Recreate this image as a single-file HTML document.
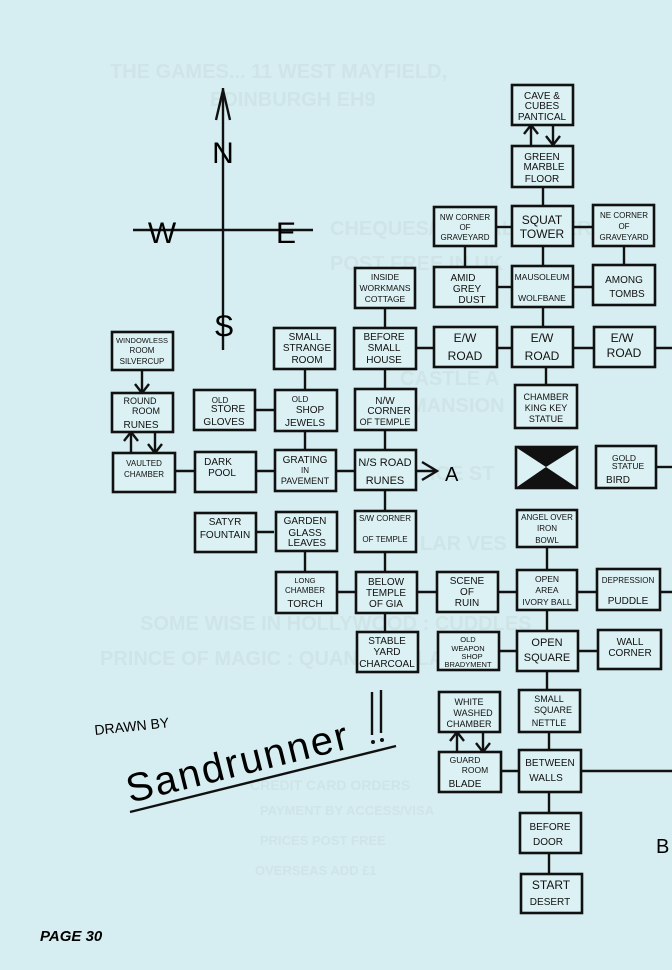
<!DOCTYPE html>
<html><head><meta charset="utf-8"><style>
html,body{margin:0;padding:0;background:#d6eef1;}
svg{display:block;}
.b{fill:#dcf1f3;stroke:#111;stroke-width:2.6;}
.l{stroke:#111;stroke-width:2.4;fill:none;}
.t{font-family:"Liberation Sans",sans-serif;font-size:10px;fill:#111;text-anchor:middle;}
.w{font-family:"Liberation Sans",sans-serif;font-weight:bold;fill:#cfe4e7;font-size:20px;}
</style></head><body>
<svg width="672" height="970" viewBox="0 0 672 970" xmlns="http://www.w3.org/2000/svg">
<rect width="672" height="970" fill="#d6eef1"/>
<!-- faint background text -->
<text class="w" x="110" y="78">THE GAMES... 11 WEST MAYFIELD,</text>
<text class="w" x="210" y="106">EDINBURGH EH9</text>
<text class="w" x="330" y="235">CHEQUES/POSTAL ORDERS</text>
<text class="w" x="330" y="270">POST FREE IN UK</text>
<text class="w" x="400" y="385">CASTLE A</text>
<text class="w" x="410" y="412">MANSION</text>
<text class="w" x="430" y="480">ICE ST</text>
<text class="w" x="420" y="550">LAR VES</text>
<text class="w" x="140" y="630">SOME WISE IN HOLLYWOOD : CUDDLES</text>
<text class="w" x="100" y="665">PRINCE OF MAGIC : QUANN TULLA</text>
<text class="w" x="250" y="790" style="font-size:14px">CREDIT CARD ORDERS</text>
<text class="w" x="260" y="815" style="font-size:13px">PAYMENT BY ACCESS/VISA</text>
<text class="w" x="260" y="845" style="font-size:13px">PRICES POST FREE</text>
<text class="w" x="255" y="875" style="font-size:13px">OVERSEAS ADD £1</text>

<!-- compass -->
<line class="l" x1="223" y1="88" x2="223" y2="350"/>
<line class="l" x1="133" y1="230" x2="313" y2="230"/>
<polyline class="l" points="216,120 223,90 230,120"/>
<text x="223" y="163" style="font-family:'Liberation Sans',sans-serif;font-size:30px;text-anchor:middle">N</text>
<text x="162" y="243" style="font-family:'Liberation Sans',sans-serif;font-size:30px;text-anchor:middle">W</text>
<text x="286" y="243" style="font-family:'Liberation Sans',sans-serif;font-size:30px;text-anchor:middle">E</text>
<text x="224" y="336" style="font-family:'Liberation Sans',sans-serif;font-size:30px;text-anchor:middle">S</text>

<!-- connectors -->
<g class="l">
<line x1="543" y1="187" x2="543" y2="206"/>
<line x1="496" y1="227" x2="512" y2="227"/><line x1="573" y1="227" x2="593" y2="227"/>
<line x1="465" y1="246" x2="465" y2="267"/><line x1="543" y1="246" x2="543" y2="266"/><line x1="624" y1="246" x2="624" y2="265"/>
<line x1="497" y1="287" x2="512" y2="287"/><line x1="573" y1="287" x2="593" y2="287"/>
<line x1="385" y1="308" x2="385" y2="328"/>
<line x1="543" y1="307" x2="543" y2="327"/>
<line x1="416" y1="348" x2="672" y2="348"/>
<line x1="385" y1="369" x2="385" y2="672"/>
<line x1="546" y1="367" x2="546" y2="385"/>
<line x1="305" y1="369" x2="305" y2="450"/>
<line x1="255" y1="410" x2="275" y2="410"/>
<line x1="175" y1="471" x2="416" y2="471"/>
<line x1="255" y1="532" x2="274" y2="532"/>
<line x1="305" y1="551" x2="305" y2="572"/>
<line x1="336" y1="592" x2="672" y2="592"/>
<line x1="547" y1="547" x2="547" y2="570"/>
<line x1="656" y1="467" x2="672" y2="467"/>
<line x1="547" y1="610" x2="547" y2="690"/>
<line x1="499" y1="651" x2="598" y2="651"/>
<line x1="549" y1="732" x2="549" y2="874"/>
<line x1="501" y1="771" x2="672" y2="771"/>
<line x1="416" y1="471" x2="437" y2="471"/>
<polyline points="422,462 437,471 422,480"/>
<line x1="531" y1="125" x2="531" y2="145"/><polyline points="524,134 531,125 538,134"/>
<line x1="553" y1="125" x2="553" y2="145"/><polyline points="546,136 553,145 560,136"/>
<line x1="142" y1="370" x2="142" y2="393"/><polyline points="135,384 142,393 149,384"/>
<line x1="131" y1="432" x2="131" y2="453"/><polyline points="124,441 131,432 138,441"/>
<line x1="155" y1="432" x2="155" y2="453"/><polyline points="148,444 155,453 162,444"/>
<line x1="457" y1="732" x2="457" y2="752"/><polyline points="450,741 457,732 464,741"/>
<line x1="483" y1="732" x2="483" y2="752"/><polyline points="476,743 483,752 490,743"/>
</g>
<text x="445" y="481" style="font-family:'Liberation Sans',sans-serif;font-size:20px">A</text>
<text x="656" y="853" style="font-family:'Liberation Sans',sans-serif;font-size:20px">B</text>

<!-- boxes -->
<g>
<rect class="b" x="512" y="85" width="61" height="40"/>
<rect class="b" x="512" y="146" width="61" height="41"/>
<rect class="b" x="434" y="207" width="62" height="39"/>
<rect class="b" x="512" y="206" width="61" height="40"/>
<rect class="b" x="593" y="205" width="61" height="41"/>
<rect class="b" x="355" y="268" width="60" height="40"/>
<rect class="b" x="434" y="267" width="63" height="40"/>
<rect class="b" x="512" y="266" width="61" height="41"/>
<rect class="b" x="593" y="265" width="62" height="40"/>
<rect class="b" x="112" y="332" width="61" height="38"/>
<rect class="b" x="274" y="328" width="61" height="41"/>
<rect class="b" x="354" y="328" width="62" height="41"/>
<rect class="b" x="434" y="327" width="63" height="40"/>
<rect class="b" x="512" y="327" width="61" height="40"/>
<rect class="b" x="594" y="327" width="61" height="40"/>
<rect class="b" x="112" y="393" width="61" height="39"/>
<rect class="b" x="194" y="390" width="61" height="40"/>
<rect class="b" x="275" y="390" width="62" height="41"/>
<rect class="b" x="355" y="389" width="61" height="41"/>
<rect class="b" x="515" y="385" width="62" height="43"/>
<rect class="b" x="113" y="453" width="62" height="39"/>
<rect class="b" x="195" y="452" width="61" height="40"/>
<rect class="b" x="275" y="450" width="61" height="41"/>
<rect class="b" x="355" y="450" width="61" height="40"/>
<rect class="b" x="516" y="447" width="61" height="41"/>
<rect class="b" x="596" y="446" width="60" height="42"/>
<rect class="b" x="195" y="513" width="61" height="39"/>
<rect class="b" x="276" y="512" width="61" height="39"/>
<rect class="b" x="355" y="511" width="61" height="41"/>
<rect class="b" x="517" y="510" width="60" height="37"/>
<rect class="b" x="276" y="572" width="61" height="41"/>
<rect class="b" x="356" y="572" width="61" height="41"/>
<rect class="b" x="437" y="572" width="61" height="40"/>
<rect class="b" x="517" y="570" width="60" height="40"/>
<rect class="b" x="597" y="569" width="63" height="41"/>
<rect class="b" x="357" y="632" width="61" height="40"/>
<rect class="b" x="438" y="632" width="61" height="38"/>
<rect class="b" x="517" y="631" width="61" height="40"/>
<rect class="b" x="598" y="630" width="63" height="39"/>
<rect class="b" x="439" y="692" width="61" height="40"/>
<rect class="b" x="519" y="690" width="61" height="42"/>
<rect class="b" x="439" y="752" width="62" height="40"/>
<rect class="b" x="519" y="750" width="62" height="42"/>
<rect class="b" x="520" y="813" width="61" height="40"/>
<rect class="b" x="521" y="874" width="61" height="39"/>
</g>
<polygon points="517,448 576,448 546,467" fill="#111"/>
<polygon points="517,487 576,487 546,467" fill="#111"/>

<!-- labels -->
<g class="t">
<text x="542" y="99">CAVE &amp;</text><text x="542" y="109">CUBES</text><text x="542" y="120">PANTICAL</text>
<text x="542" y="160">GREEN</text><text x="544" y="170">MARBLE</text><text x="542" y="182">FLOOR</text>
<text x="465" y="220" style="font-size:8px">NW CORNER</text><text x="465" y="230" style="font-size:8px">OF</text><text x="465" y="240" style="font-size:8px">GRAVEYARD</text>
<text x="542" y="224" style="font-size:12px">SQUAT</text><text x="542" y="238" style="font-size:12px">TOWER</text>
<text x="624" y="218" style="font-size:8px">NE CORNER</text><text x="624" y="229" style="font-size:8px">OF</text><text x="624" y="240" style="font-size:8px">GRAVEYARD</text>
<text x="385" y="280" style="font-size:8.5px">INSIDE</text><text x="385" y="291" style="font-size:8.5px">WORKMANS</text><text x="385" y="302" style="font-size:8.5px">COTTAGE</text>
<text x="463" y="281">AMID</text><text x="467" y="292">GREY</text><text x="472" y="303">DUST</text>
<text x="542" y="280" style="font-size:8.5px">MAUSOLEUM</text><text x="542" y="301" style="font-size:8.5px">WOLFBANE</text>
<text x="624" y="283">AMONG</text><text x="627" y="297">TOMBS</text>
<text x="142" y="343" style="font-size:7.5px">WINDOWLESS</text><text x="142" y="353" style="font-size:8px">ROOM</text><text x="142" y="364" style="font-size:8px">SILVERCUP</text>
<text x="305" y="340">SMALL</text><text x="307" y="351">STRANGE</text><text x="307" y="363">ROOM</text>
<text x="384" y="340">BEFORE</text><text x="384" y="351">SMALL</text><text x="384" y="363">HOUSE</text>
<text x="465" y="342" style="font-size:12px">E/W</text><text x="465" y="360" style="font-size:12px">ROAD</text>
<text x="542" y="342" style="font-size:12px">E/W</text><text x="542" y="360" style="font-size:12px">ROAD</text>
<text x="622" y="342" style="font-size:12px">E/W</text><text x="624" y="357" style="font-size:12px">ROAD</text>
<text x="140" y="404" style="font-size:9px">ROUND</text><text x="146" y="414" style="font-size:9px">ROOM</text><text x="141" y="428">RUNES</text>
<text x="220" y="403" style="font-size:8px">OLD</text><text x="228" y="412">STORE</text><text x="224" y="425">GLOVES</text>
<text x="300" y="402" style="font-size:8px">OLD</text><text x="310" y="413">SHOP</text><text x="305" y="426">JEWELS</text>
<text x="385" y="404">N/W</text><text x="389" y="414">CORNER</text><text x="385" y="425" style="font-size:9px">OF TEMPLE</text>
<text x="546" y="400" style="font-size:9px">CHAMBER</text><text x="546" y="411" style="font-size:9px">KING KEY</text><text x="546" y="422" style="font-size:9px">STATUE</text>
<text x="144" y="466" style="font-size:8px">VAULTED</text><text x="144" y="477" style="font-size:8px">CHAMBER</text>
<text x="218" y="465">DARK</text><text x="222" y="476">POOL</text>
<text x="305" y="463">GRATING</text><text x="305" y="473" style="font-size:8px">IN</text><text x="305" y="484" style="font-size:9px">PAVEMENT</text>
<text x="385" y="466" style="font-size:11px">N/S ROAD</text><text x="385" y="484" style="font-size:11px">RUNES</text>
<text x="624" y="461" style="font-size:8.5px">GOLD</text><text x="628" y="469" style="font-size:8.5px">STATUE</text><text x="618" y="483">BIRD</text>
<text x="225" y="525">SATYR</text><text x="225" y="538">FOUNTAIN</text>
<text x="305" y="524">GARDEN</text><text x="305" y="536">GLASS</text><text x="307" y="546">LEAVES</text>
<text x="385" y="521" style="font-size:8px">S/W CORNER</text><text x="385" y="542" style="font-size:8px">OF TEMPLE</text>
<text x="547" y="520" style="font-size:8px">ANGEL OVER</text><text x="547" y="531" style="font-size:8px">IRON</text><text x="547" y="543" style="font-size:8px">BOWL</text>
<text x="305" y="583" style="font-size:7.5px">LONG</text><text x="305" y="593" style="font-size:8px">CHAMBER</text><text x="305" y="607">TORCH</text>
<text x="386" y="585">BELOW</text><text x="386" y="596">TEMPLE</text><text x="386" y="607">OF GIA</text>
<text x="467" y="584">SCENE</text><text x="467" y="595">OF</text><text x="467" y="606">RUIN</text>
<text x="547" y="582" style="font-size:8.5px">OPEN</text><text x="547" y="593" style="font-size:8.5px">AREA</text><text x="547" y="605" style="font-size:8.5px">IVORY BALL</text>
<text x="628" y="583" style="font-size:8px">DEPRESSION</text><text x="628" y="604">PUDDLE</text>
<text x="387" y="644">STABLE</text><text x="387" y="655">YARD</text><text x="387" y="667">CHARCOAL</text>
<text x="468" y="642" style="font-size:7.5px">OLD</text><text x="468" y="651" style="font-size:7.5px">WEAPON</text><text x="472" y="659" style="font-size:7.5px">SHOP</text><text x="468" y="667" style="font-size:7.5px">BRADYMENT</text>
<text x="547" y="646" style="font-size:11px">OPEN</text><text x="547" y="661" style="font-size:11px">SQUARE</text>
<text x="630" y="645">WALL</text><text x="630" y="656">CORNER</text>
<text x="469" y="705" style="font-size:9px">WHITE</text><text x="473" y="716" style="font-size:9px">WASHED</text><text x="469" y="727" style="font-size:9px">CHAMBER</text>
<text x="549" y="702" style="font-size:9px">SMALL</text><text x="553" y="713" style="font-size:9px">SQUARE</text><text x="549" y="726" style="font-size:9px">NETTLE</text>
<text x="465" y="763" style="font-size:8.5px">GUARD</text><text x="475" y="773" style="font-size:8.5px">ROOM</text><text x="465" y="787">BLADE</text>
<text x="550" y="766">BETWEEN</text><text x="546" y="781">WALLS</text>
<text x="550" y="830">BEFORE</text><text x="548" y="845">DOOR</text>
<text x="551" y="889" style="font-size:12px">START</text><text x="550" y="905">DESERT</text>
</g>

<!-- credits -->
<text x="95" y="735" transform="rotate(-6 95 735)" style="font-family:'Liberation Sans',sans-serif;font-size:14px">DRAWN BY</text>
<text x="130" y="803" transform="rotate(-14 130 803)" style="font-family:'Liberation Sans',sans-serif;font-size:40px;letter-spacing:2px">Sandrunner</text>
<line class="l" x1="130" y1="812" x2="396" y2="746"/>
<line class="l" x1="372" y1="692" x2="372" y2="735"/>
<line class="l" x1="381" y1="690" x2="381" y2="733"/>
<circle cx="373" cy="742" r="2" fill="#111"/><circle cx="382" cy="740" r="2" fill="#111"/>
<text x="40" y="941" style="font-family:'Liberation Sans',sans-serif;font-size:15px;font-weight:bold;font-style:italic">PAGE 30</text>
</svg>
</body></html>
